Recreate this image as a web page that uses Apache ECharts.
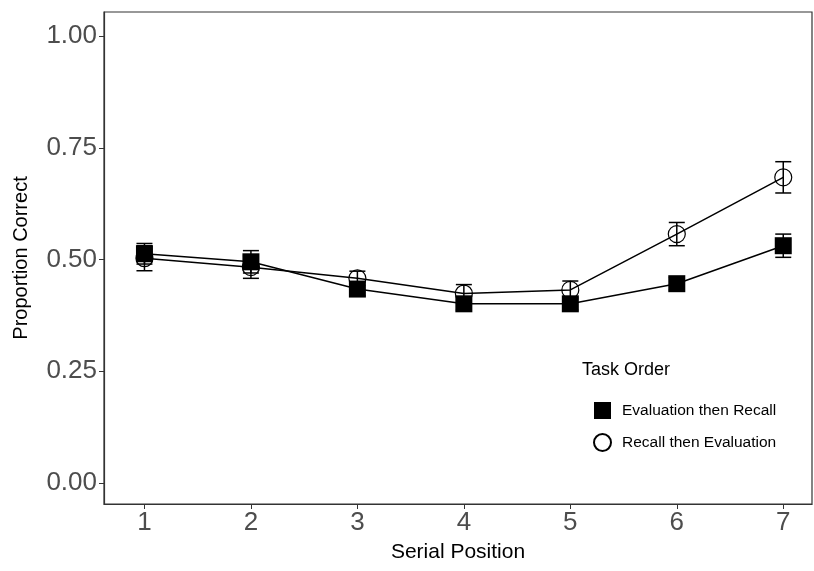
<!DOCTYPE html>
<html>
<head>
<meta charset="utf-8">
<script src="https://cdn.jsdelivr.net/npm/echarts@6/dist/echarts.min.js"></script>
<style>
  html, body { margin: 0; padding: 0; background: #fff; }
  #chart { width: 814px; height: 571px; }
</style>
</head>
<body>
<div id="chart"></div>
<script>
var positions = [1, 2, 3, 4, 5, 6, 7]
var evalRecall = [0.513, 0.495, 0.434, 0.401, 0.401, 0.446, 0.531]
var evalRecallErr = [0.023, 0.025, 0.015, 0.014, 0.014, 0.014, 0.026]
var recallEval = [0.503, 0.483, 0.458, 0.424, 0.432, 0.557, 0.684]
var recallEvalErr = [0.028, 0.025, 0.016, 0.02, 0.02, 0.026, 0.035]
var yTicks = [0, 0.25, 0.5, 0.75, 1]
var names = ['Evaluation then Recall', 'Recall then Evaluation']

function pairs(vals){
    var out = []
    for(let i=0;i<positions.length;i++){
        out.push([positions[i], vals[i]])
    }
    return out
}

function errData(vals, err){
    var out = []
    for(let i=0;i<positions.length;i++){
        out.push([positions[i], vals[i] - err[i], vals[i] + err[i]])
    }
    return out
}

function renderErr(params, api){
    var lo = api.coord([api.value(0), api.value(1)])
    var hi = api.coord([api.value(0), api.value(2)])
    var w = 8
    var style = { stroke: '#000', lineWidth: 1.5 }
    return {
        type: 'group',
        children: [
            { type: 'line', shape: { x1: lo[0], y1: lo[1], x2: hi[0], y2: hi[1] }, style: style },
            { type: 'line', shape: { x1: lo[0]-w, y1: lo[1], x2: lo[0]+w, y2: lo[1] }, style: style },
            { type: 'line', shape: { x1: hi[0]-w, y1: hi[1], x2: hi[0]+w, y2: hi[1] }, style: style }
        ]
    }
}

var font = 'Liberation Sans, Arial, sans-serif'

option = {
    animation: false,
    grid: {
        left: 104, right: 2, top: 12, bottom: 67,
        outerBoundsMode: 'none', containLabel: false,
        show: true, borderColor: '#333', borderWidth: 1.2
    },
    xAxis: {
        type: 'value', min: 0.62, max: 7.27,
        name: 'Serial Position', nameLocation: 'middle', nameGap: 38,
        nameTextStyle: { fontFamily: font, fontSize: 21, color: '#000' },
        axisLine: { show: true, onZero: false, lineStyle: { color: '#333', width: 1.2 } },
        axisTick: { show: true, length: 5, customValues: positions, lineStyle: { color: '#333' } },
        axisLabel: { customValues: positions, fontFamily: font, fontSize: 26, color: '#4d4d4d', margin: 6 },
        splitLine: { show: false }
    },
    yAxis: {
        type: 'value', min: -0.047, max: 1.054,
        name: 'Proportion Correct', nameLocation: 'middle', nameGap: 73,
        nameTextStyle: { fontFamily: font, fontSize: 20, color: '#000' },
        axisLine: { show: true, onZero: false, lineStyle: { color: '#333', width: 1.2 } },
        axisTick: { show: true, length: 5, customValues: yTicks, lineStyle: { color: '#333' } },
        axisLabel: {
            customValues: yTicks, fontFamily: font, fontSize: 26, color: '#4d4d4d', margin: 7,
            formatter: function(v){ return v.toFixed(2) }
        },
        splitLine: { show: false }
    },
    legend: {
        orient: 'vertical', left: 588, top: 397,
        itemWidth: 17, itemHeight: 17, itemGap: 14,
        textStyle: { fontFamily: font, fontSize: 15.5, color: '#000', padding: [0, 0, 0, 6] },
        data: [{ name: names[0], icon: 'rect' }, { name: names[1], icon: 'circle' }]
    },
    graphic: [{
        type: 'text', left: 582, top: 361,
        style: { text: 'Task Order', font: '18px Liberation Sans, Arial, sans-serif', fill: '#000' }
    }],
    series: [
        {
            type: 'custom', name: names[1] + ' err', renderItem: renderErr,
            data: errData(recallEval, recallEvalErr), z: 2, silent: true
        },
        {
            type: 'custom', name: names[0] + ' err', renderItem: renderErr,
            data: errData(evalRecall, evalRecallErr), z: 2, silent: true
        },
        {
            type: 'line', name: names[1], data: pairs(recallEval),
            symbol: 'circle', symbolSize: 17, z: 3,
            lineStyle: { color: '#000', width: 1.5 },
            itemStyle: { color: 'rgba(0,0,0,0)', borderColor: '#000', borderWidth: 1.2 }
        },
        {
            type: 'line', name: names[0], data: pairs(evalRecall),
            symbol: 'rect', symbolSize: 17, z: 4,
            lineStyle: { color: '#000', width: 1.5 },
            itemStyle: { color: '#000', borderColor: '#000', borderWidth: 0 }
        }
    ]
}

var myChart = echarts.init(document.getElementById('chart'))
myChart.setOption(option)
</script>
</body>
</html>
